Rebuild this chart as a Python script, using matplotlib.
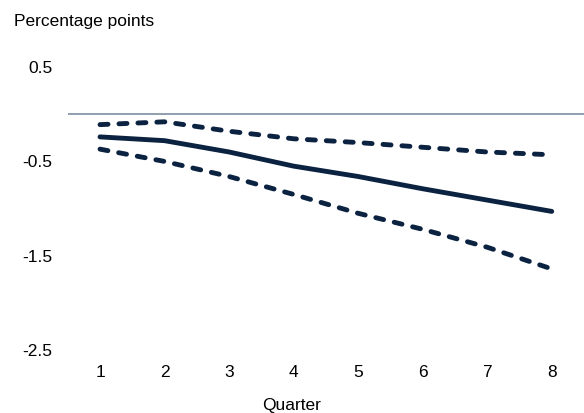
import matplotlib.pyplot as plt

plt.rcParams['font.family'] = ['Liberation Sans', 'DejaVu Sans']

quarters = [1, 2, 3, 4, 5, 6, 7, 8]
central = [-0.24, -0.28, -0.40, -0.55, -0.66, -0.79, -0.91, -1.03]
upper = [-0.11, -0.08, -0.18, -0.26, -0.30, -0.35, -0.40, -0.43]
lower = [-0.37, -0.50, -0.66, -0.85, -1.05, -1.22, -1.41, -1.64]
yticks = [0.5, -0.5, -1.5, -2.5]

navy = '#0b2341'

fig = plt.figure(figsize=(5.84, 4.13), dpi=100)
ax = fig.add_axes([0.116, 0.1525, 0.884, 0.685])

ax.axhline(0, color='#7d8fa3', linewidth=1.2)
ax.plot(quarters, central, color=navy, linewidth=3.5, solid_capstyle='round')
for band in (upper, lower):
    ax.plot(quarters, band, color=navy, linewidth=3.5, linestyle=(0, (1.65, 2.25)),
            dash_capstyle='round')

ax.set_xlim(0.5, 8.5)
ax.set_ylim(-2.5, 0.5)
ax.set_xticks(quarters)
ax.set_yticks(yticks)
ax.set_yticklabels([f'{v:g}' for v in yticks])
ax.tick_params(axis='both', length=0, labelsize=12.5, colors='black')
ax.tick_params(axis='y', pad=10.8)
ax.tick_params(axis='x', pad=11)
for s in ax.spines.values():
    s.set_visible(False)

fig.text(0.024, 0.947, 'Percentage points', fontsize=12.5, va='center', ha='left')
fig.text(0.5, 0.019, 'Quarter', fontsize=12.5, va='center', ha='center')

fig.savefig('out.png', dpi=100)
